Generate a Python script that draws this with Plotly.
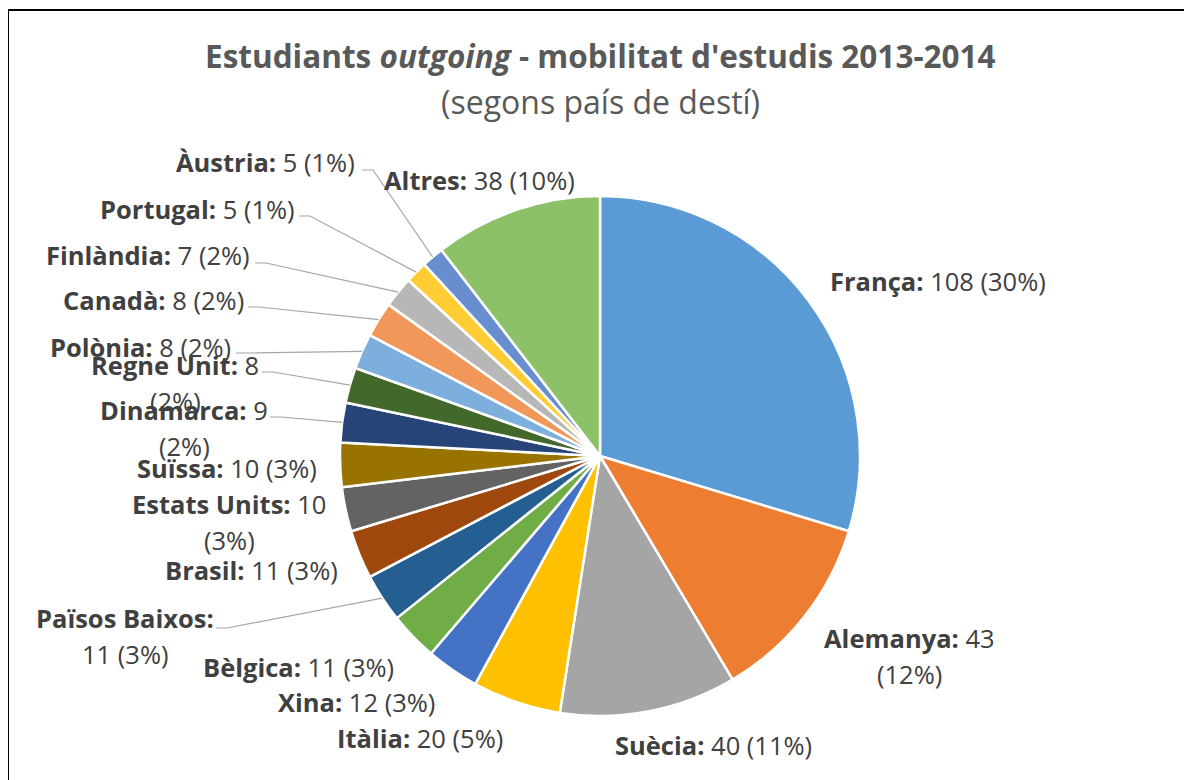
import math
import plotly.graph_objects as go

countries = ["França", "Alemanya", "Suècia", "Itàlia", "Xina", "Bèlgica", "Països Baixos",
             "Brasil", "Estats Units", "Suïssa", "Dinamarca", "Regne Unit", "Polònia",
             "Canadà", "Finlàndia", "Portugal", "Àustria", "Altres"]
students = [108, 43, 40, 20, 12, 11, 11, 11, 10, 10, 9, 8, 8, 8, 7, 5, 5, 38]
colors = ["#5B9BD5", "#ED7D31", "#A5A5A5", "#FFC000", "#4472C4", "#70AD47", "#255E91",
          "#9E480E", "#636363", "#997300", "#264478", "#43682B", "#7CAFDD", "#F1975A",
          "#B7B7B7", "#FFCD33", "#698ED0", "#8CC168"]

W, H = 1192, 780
OFF = 8  # page margin of the browser
CX, CY, R = 600, 456, 260

# label layout: centre x, centre y of first line (px), wrap mode, leader start (px) or None
label_layout = {
    "França": (938, 281, 0, None),
    "Alemanya": (909, 638, 1, None),
    "Suècia": (713, 745, 0, None),
    "Itàlia": (420, 738, 0, None),
    "Xina": (356, 702, 0, None),
    "Bèlgica": (298, 667, 0, None),
    "Països Baixos": (125, 618, 2, (216, 628)),
    "Brasil": (251, 570, 0, None),
    "Estats Units": (229, 504, 1, None),
    "Suïssa": (227, 468, 0, None),
    "Dinamarca": (184, 410, 1, (270, 417)),
    "Regne Unit": (175, 365, 1, (262, 372)),
    "Polònia": (140, 347, 0, (236, 353)),
    "Canadà": (153, 300, 0, (248, 307)),
    "Finlàndia": (148, 255, 0, (255, 263)),
    "Portugal": (197, 209, 0, (299, 216)),
    "Àustria": (265, 162, 0, (362, 170)),
    "Altres": (479, 180, 0, None),
}
LINE_GAP = 36
FONT = "Open Sans"
LABEL_SIZE = 25.5
TXT = "#404040"


def px(x):
    return (x - OFF) / W


def py(y):
    return 1 - (y - OFF) / H


fig = go.Figure(go.Pie(
    labels=countries, values=students, sort=False, direction="clockwise", rotation=0,
    marker=dict(colors=colors, line=dict(color="white", width=2.5)),
    textinfo="none", showlegend=False,
    domain=dict(x=[px(CX - R), px(CX + R)], y=[py(CY + R), py(CY - R)]),
))

total = sum(students)
annotations = []
shapes = []
cum = 0
for name, val in zip(countries, students):
    mid = (cum + val / 2) / total
    cum += val
    pct = round(100 * val / total)
    x, y, wrap, leader = label_layout[name]
    if wrap == 0:
        lines = [f"<b>{name}:</b> {val} ({pct}%)"]
    elif wrap == 1:
        lines = [f"<b>{name}:</b> {val}", f"({pct}%)"]
    else:
        lines = [f"<b>{name}:</b>", f"{val} ({pct}%)"]
    for i, t in enumerate(lines):
        annotations.append(dict(
            text=t, x=px(x), y=py(y + i * LINE_GAP), xref="paper", yref="paper",
            xanchor="center", yanchor="middle", showarrow=False,
            font=dict(family=FONT, size=LABEL_SIZE, color=TXT)))
    if leader is not None:
        th = 2 * math.pi * mid
        ex = CX + R * math.sin(th)
        ey = CY - R * math.cos(th)
        lx, ly = leader
        path = f"M {px(lx)} {py(ly)} L {px(lx + 11)} {py(ly)} L {px(ex)} {py(ey)}"
        shapes.append(dict(type="path", path=path, xref="paper", yref="paper",
                           line=dict(color="#A6A6A6", width=1.2)))

annotations.append(dict(
    text="<b>Estudiants <i>outgoing</i> - mobilitat d'estudis 2013-2014</b>",
    x=px(600), y=py(55), xref="paper", yref="paper", showarrow=False,
    xanchor="center", yanchor="middle",
    font=dict(family=FONT, size=31.5, color="#595959")))
annotations.append(dict(
    text="(segons país de destí)",
    x=px(600), y=py(101), xref="paper", yref="paper", showarrow=False,
    xanchor="center", yanchor="middle",
    font=dict(family=FONT, size=32, color="#595959")))

shapes.append(dict(type="rect", xref="paper", yref="paper",
                   x0=px(8), x1=1.02, y0=-0.02, y1=py(10),
                   line=dict(color="black", width=2)))

fig.update_layout(
    width=W, height=H, margin=dict(l=0, r=0, t=0, b=0),
    paper_bgcolor="white", plot_bgcolor="white",
    annotations=annotations, shapes=shapes,
)
fig.write_html("out.html")
